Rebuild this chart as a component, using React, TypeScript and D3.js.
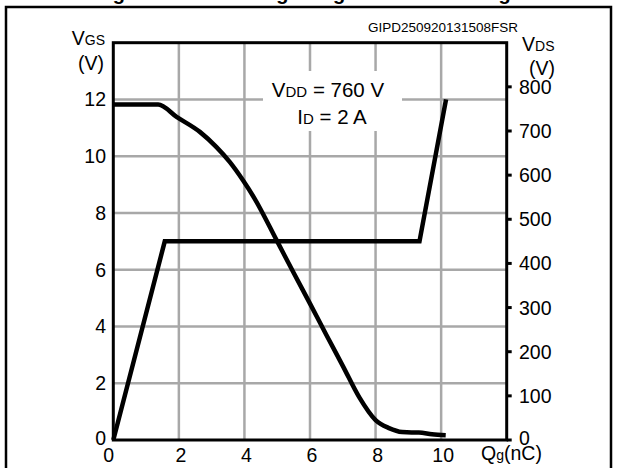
import React from "react";
import * as d3 from "d3";

const qgVgs = [0, 1.57, 9.34, 10.15];
const vgs = [0, 7.0, 7.0, 12.0];

const qgVds = [0, 1.37, 1.93, 2.64, 3.14, 3.55, 3.95, 4.31, 5.0, 5.5, 6.0, 6.5, 7.0, 7.5, 8.0, 8.41, 8.81, 9.1, 9.32, 9.72, 10.14];
const vds = [760, 760, 732, 698, 664, 630, 589, 547, 450, 379, 309, 238, 168, 97, 45, 27, 18, 17, 17, 13, 11];

const xTicks = [0, 2, 4, 6, 8, 10];
const xGrid = [2, 4, 6, 8, 10];
const leftTicks = [0, 2, 4, 6, 8, 10, 12];
const leftGrid = [2, 4, 6, 8, 10, 12];
const rightTicks = [0, 100, 200, 300, 400, 500, 600, 700, 800];

const W = 617;
const H = 468;
const L = 113.3;
const R = 506.7;
const T = 42.7;
const B = 440;
const FONT = "'Liberation Sans', Arial, Helvetica, sans-serif";
const FS = 19.5;
const SUB = 14;
const GRID = "#a8a8a8";

export default function App() {
  const x = d3.scaleLinear().domain([0, 12]).range([L, R]);
  const yL = d3.scaleLinear().domain([0, 14]).range([B, T]);
  const yR = d3.scaleLinear().domain([0, 900]).range([B, T]);

  const vgsLine = d3
    .line<number>()
    .x((_, i) => x(qgVgs[i]))
    .y((d) => yL(d))
    .curve(d3.curveLinear)(vgs) as string;

  const vdsLine = d3
    .line<number>()
    .x((_, i) => x(qgVds[i]))
    .y((d) => yR(d))
    .curve(d3.curveMonotoneX)(vds) as string;

  return (
    <svg
      width={W}
      height={H}
      style={{ position: "absolute", left: 0, top: 0, background: "#fff" }}
      fontFamily={FONT}
    >
      <rect x={0} y={0} width={W} height={H} fill="#fff" />
      <text x={W / 2} y={0} textAnchor="middle" fontSize={20} fontWeight="bold">
        Figure 8. Gate charge vs gate-source voltage
      </text>
      <rect x={6} y={7} width={605} height={480} fill="none" stroke="#000" strokeWidth={2.5} />

      {/* grid */}
      {xGrid.map((v) => (
        <line key={"gx" + v} x1={x(v)} x2={x(v)} y1={T} y2={B} stroke={GRID} strokeWidth={2.5} />
      ))}
      {leftGrid.map((v) => (
        <line key={"gy" + v} x1={L} x2={R} y1={yL(v)} y2={yL(v)} stroke={GRID} strokeWidth={2.5} />
      ))}

      {/* annotation box */}
      <rect x={263} y={71} width={139} height={60} fill="#fff" />
      <text x={328} y={97} textAnchor="middle" fontSize={20.5}>
        V<tspan fontSize={15}>DD</tspan> = 760 V
      </text>
      <text x={332} y={123.5} textAnchor="middle" fontSize={20.5}>
        I<tspan fontSize={15}>D</tspan> = 2 A
      </text>

      {/* curves */}
      <path d={vgsLine} fill="none" stroke="#000" strokeWidth={4.5} strokeLinejoin="miter" />
      <path d={vdsLine} fill="none" stroke="#000" strokeWidth={4.5} strokeLinejoin="round" />

      {/* plot frame */}
      <rect x={L} y={T} width={R - L} height={B - T} fill="none" stroke="#000" strokeWidth={3} />

      {/* right ticks */}
      {rightTicks.map((v) => (
        <line key={"rt" + v} x1={R} x2={R + 5} y1={yR(v)} y2={yR(v)} stroke="#000" strokeWidth={3} />
      ))}

      {/* left tick labels */}
      {leftTicks.map((v) => (
        <text key={"lt" + v} x={106} y={yL(v) + 7 - (v === 0 ? 2 : 0)} textAnchor="end" fontSize={FS}>
          {v}
        </text>
      ))}
      {/* right tick labels */}
      {rightTicks.map((v) => (
        <text key={"rl" + v} x={519} y={yR(v) + 7 - (v === 0 ? 2.5 : 0)} textAnchor="start" fontSize={FS}>
          {v}
        </text>
      ))}
      {/* x tick labels */}
      {xTicks.map((v) => (
        <text key={"xt" + v} x={x(v) + (v === 0 ? -4.5 : 2)} y={462} textAnchor="middle" fontSize={FS}>
          {v}
        </text>
      ))}

      {/* axis titles */}
      <text x={105} y={45} textAnchor="end" fontSize={FS}>
        V<tspan fontSize={SUB}>GS</tspan>
      </text>
      <text x={104} y={70} textAnchor="end" fontSize={FS}>
        (V)
      </text>
      <text x={522} y={51} textAnchor="start" fontSize={FS}>
        V<tspan fontSize={SUB}>DS</tspan>
      </text>
      <text x={529} y={75} textAnchor="start" fontSize={FS}>
        (V)
      </text>
      <text x={481} y={460} textAnchor="start" fontSize={FS}>
        Q<tspan fontSize={SUB}>g</tspan>(nC)
      </text>
      <text x={518} y={31.5} textAnchor="end" fontSize={13.5}>
        GIPD250920131508FSR
      </text>
    </svg>
  );
}
